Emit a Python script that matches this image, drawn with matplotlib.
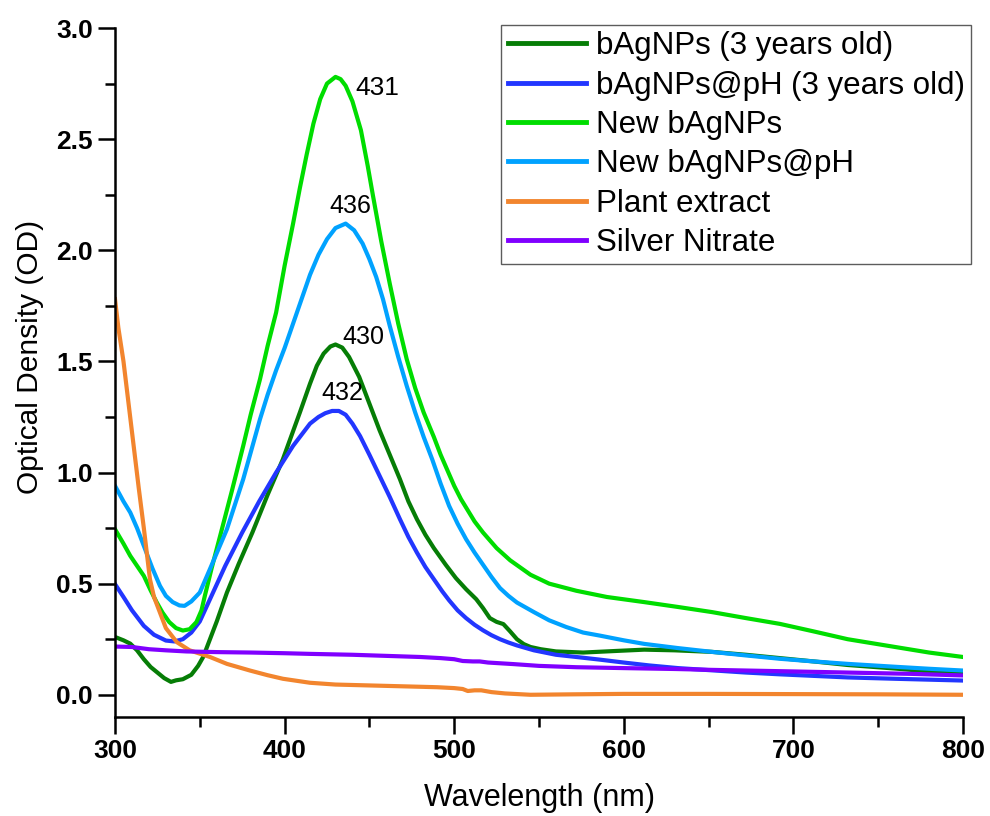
import matplotlib
matplotlib.use("Agg")
import matplotlib.pyplot as plt
from matplotlib.ticker import MultipleLocator

plt.rcParams['font.family'] = ['Liberation Sans', 'DejaVu Sans']

# bAgNPs (3 years old)
wl_old = [300, 305, 309, 313, 317, 321, 325, 329, 333, 336, 340, 345, 349, 352, 355, 360,
          366, 373, 381, 390, 399, 409, 415, 419, 423, 427, 430, 434, 438, 444, 450, 456,
          462, 468, 473, 478, 483, 488, 495, 501, 507, 513, 517, 521, 525, 529, 533, 537,
          541, 545, 551, 560, 576, 595, 612, 630, 652, 672, 692, 712, 732, 760, 780, 800]
od_old = [0.26, 0.245, 0.23, 0.20, 0.16, 0.125, 0.10, 0.075, 0.058, 0.065, 0.07, 0.09, 0.13,
          0.17, 0.23, 0.33, 0.46, 0.59, 0.73, 0.90, 1.06, 1.27, 1.40, 1.48, 1.535, 1.567,
          1.576, 1.562, 1.52, 1.43, 1.31, 1.19, 1.08, 0.97, 0.87, 0.79, 0.72, 0.66, 0.585,
          0.525, 0.475, 0.43, 0.39, 0.345, 0.328, 0.318, 0.285, 0.25, 0.228, 0.215, 0.205,
          0.195, 0.19, 0.197, 0.203, 0.20, 0.193, 0.18, 0.165, 0.15, 0.134, 0.118, 0.105,
          0.094]

# bAgNPs@pH (3 years old)
wl_old_ph = [300, 305, 310, 317, 323, 330, 335, 340, 345, 350, 356, 365, 375, 385, 395, 405,
             415, 420, 424, 428, 432, 436, 440, 444.5, 450, 456, 462, 468, 473, 478, 483, 488,
             493, 497, 502, 507, 512, 517, 522, 527, 532, 537, 547, 560, 572, 586, 600, 615,
             632, 652, 672, 692, 712, 732, 760, 780, 800]
od_old_ph = [0.498, 0.44, 0.38, 0.31, 0.27, 0.244, 0.24, 0.25, 0.28, 0.33, 0.43, 0.58, 0.73,
             0.87, 1.0, 1.12, 1.22, 1.25, 1.267, 1.277, 1.277, 1.26, 1.22, 1.164, 1.08, 0.985,
             0.89, 0.79, 0.71, 0.64, 0.575, 0.52, 0.465, 0.425, 0.38, 0.345, 0.315, 0.29,
             0.268, 0.25, 0.235, 0.222, 0.20, 0.18, 0.17, 0.158, 0.145, 0.132, 0.12, 0.11,
             0.10, 0.092, 0.085, 0.078, 0.072, 0.068, 0.064]

# New bAgNPs
wl_new = [300, 305, 309, 313, 317, 321, 324.5, 328, 332, 336, 340, 344, 348, 351, 353, 357,
          362, 369, 375.6, 380, 385.5, 390, 395, 400, 405, 409, 413, 417, 421, 425, 430, 433,
          436, 440, 445, 449, 452, 457, 462, 467, 472, 477, 482, 488, 492, 496, 500, 504, 508,
          512, 517, 521, 525, 533, 545, 556, 572, 590, 612, 632, 652, 672, 692, 712, 732,
          760, 780, 800]
od_new = [0.745, 0.68, 0.625, 0.58, 0.535, 0.47, 0.417, 0.37, 0.327, 0.30, 0.289, 0.295, 0.327,
          0.38, 0.446, 0.57, 0.715, 0.92, 1.12, 1.26, 1.42, 1.57, 1.72, 1.93, 2.12, 2.28, 2.43,
          2.57, 2.68, 2.75, 2.78, 2.77, 2.74, 2.67, 2.54, 2.38, 2.25, 2.04, 1.85, 1.67, 1.51,
          1.38, 1.27, 1.16, 1.08, 1.01, 0.94, 0.88, 0.83, 0.78, 0.73, 0.695, 0.66, 0.605,
          0.54, 0.50, 0.468, 0.44, 0.417, 0.395, 0.372, 0.345, 0.319, 0.285, 0.25, 0.215,
          0.19, 0.17]

# New bAgNPs@pH
wl_new_ph = [300, 305, 309, 313, 317, 322, 326.5, 330, 334, 338, 341, 345, 350, 356, 366,
             375.6, 385.5, 390, 395, 400, 405, 410, 415, 420, 425, 430, 436, 441, 446, 450,
             454, 458, 462, 467, 472, 477, 482, 487, 492, 497, 502, 507, 512, 517, 522, 527,
             532, 537, 547, 556, 566, 576, 586, 600, 612, 632, 652, 672, 692, 712, 732, 760,
             780, 800]
od_new_ph = [0.94, 0.87, 0.82, 0.75, 0.67, 0.57, 0.49, 0.445, 0.417, 0.402, 0.40, 0.42, 0.46,
             0.566, 0.745, 0.97, 1.24, 1.35, 1.46, 1.56, 1.67, 1.78, 1.89, 1.98, 2.05, 2.10,
             2.12, 2.09, 2.03, 1.96, 1.88, 1.78, 1.66, 1.52, 1.39, 1.27, 1.16, 1.06, 0.95,
             0.85, 0.77, 0.70, 0.64, 0.585, 0.53, 0.48, 0.445, 0.415, 0.372, 0.335, 0.305,
             0.28, 0.266, 0.245, 0.229, 0.21, 0.193, 0.177, 0.162, 0.15, 0.139, 0.126, 0.117,
             0.109]

# Plant extract
wl_plant = [300, 302, 305, 308, 311, 314, 317, 320.6, 323, 326.5, 330, 336.4, 344, 356, 366,
            379.6, 390, 399, 415, 430, 450, 470, 490, 500, 505, 508, 512, 516, 522, 530, 545,
            570, 600, 650, 700, 750, 800]
od_plant = [1.78, 1.65, 1.50, 1.31, 1.12, 0.93, 0.75, 0.52, 0.44, 0.37, 0.30, 0.237, 0.20,
            0.17, 0.139, 0.109, 0.088, 0.072, 0.054, 0.046, 0.042, 0.038, 0.034, 0.03, 0.026,
            0.017, 0.02, 0.02, 0.012, 0.006, 0.0, 0.002, 0.004, 0.004, 0.003, 0.002, 0.0]

# Silver Nitrate
wl_agno3 = [300, 310, 320, 330, 342, 360, 380, 400, 415, 440, 460, 480, 492, 500, 505, 511,
            515, 520, 535, 550, 572, 600, 630, 652, 700, 732, 770, 800]
od_agno3 = [0.217, 0.215, 0.205, 0.20, 0.195, 0.192, 0.19, 0.187, 0.184, 0.18, 0.175, 0.17,
            0.165, 0.16, 0.152, 0.15, 0.15, 0.145, 0.138, 0.13, 0.124, 0.12, 0.116, 0.112,
            0.105, 0.10, 0.094, 0.087]

series = [
    (wl_old, od_old, 'bAgNPs (3 years old)', '#067d06'),
    (wl_old_ph, od_old_ph, 'bAgNPs@pH (3 years old)', '#2236ff'),
    (wl_new, od_new, 'New bAgNPs', '#00dd00'),
    (wl_new_ph, od_new_ph, 'New bAgNPs@pH', '#00a2ff'),
    (wl_plant, od_plant, 'Plant extract', '#f2852e'),
    (wl_agno3, od_agno3, 'Silver Nitrate', '#8000ff'),
]

# peak labels: text, left x, center y
peak_labels = [('431', 441.5, 2.73), ('436', 426.5, 2.20), ('430', 434, 1.61), ('432', 421.5, 1.36)]

fig = plt.figure(figsize=(9.9, 8.16), dpi=100)
ax = fig.add_axes([115 / 990, 99 / 816, 848 / 990, 689 / 816])

for wl, od, name, col in series:
    ax.plot(wl, od, color=col, lw=3, label=name, solid_joinstyle='round')

for txt, x, y in peak_labels:
    ax.text(x, y, txt, fontsize=19 if txt == '431' else 18, ha='left', va='center')

ax.set_xlim(300, 800)
ax.set_ylim(-0.1, 3.0)
ax.xaxis.set_major_locator(MultipleLocator(100))
ax.xaxis.set_minor_locator(MultipleLocator(50))
ax.yaxis.set_major_locator(MultipleLocator(0.5))
ax.yaxis.set_minor_locator(MultipleLocator(0.25))
ax.yaxis.set_major_formatter(plt.FormatStrFormatter('%.1f'))

for s in ['top', 'right']:
    ax.spines[s].set_visible(False)
for s in ['left', 'bottom']:
    ax.spines[s].set_linewidth(1.8)

ax.tick_params(which='major', direction='out', length=12, width=1.8, labelsize=19, pad=4)
ax.tick_params(which='minor', direction='out', length=7, width=1.8)
for lab in ax.get_xticklabels() + ax.get_yticklabels():
    lab.set_fontweight('bold')

ax.set_xlabel('Wavelength (nm)', fontsize=22, va='center')
ax.xaxis.set_label_coords(0.5, -0.1176)
ax.set_ylabel('Optical Density (OD)', fontsize=21.5, va='center')
ax.yaxis.set_label_coords(-0.1008, 0.522)

leg = fig.legend(loc='upper right', bbox_to_anchor=(971 / 990, 1 - 25 / 816),
                 fontsize=22.5, frameon=True, fancybox=False, handlelength=2.5,
                 labelspacing=0.3, borderpad=0.2, handletextpad=0.32, borderaxespad=0)
leg.get_frame().set_edgecolor('#333333')
leg.get_frame().set_linewidth(1.0)
for line in leg.get_lines():
    line.set_linewidth(3.5)

fig.savefig('out.png', dpi=100)
